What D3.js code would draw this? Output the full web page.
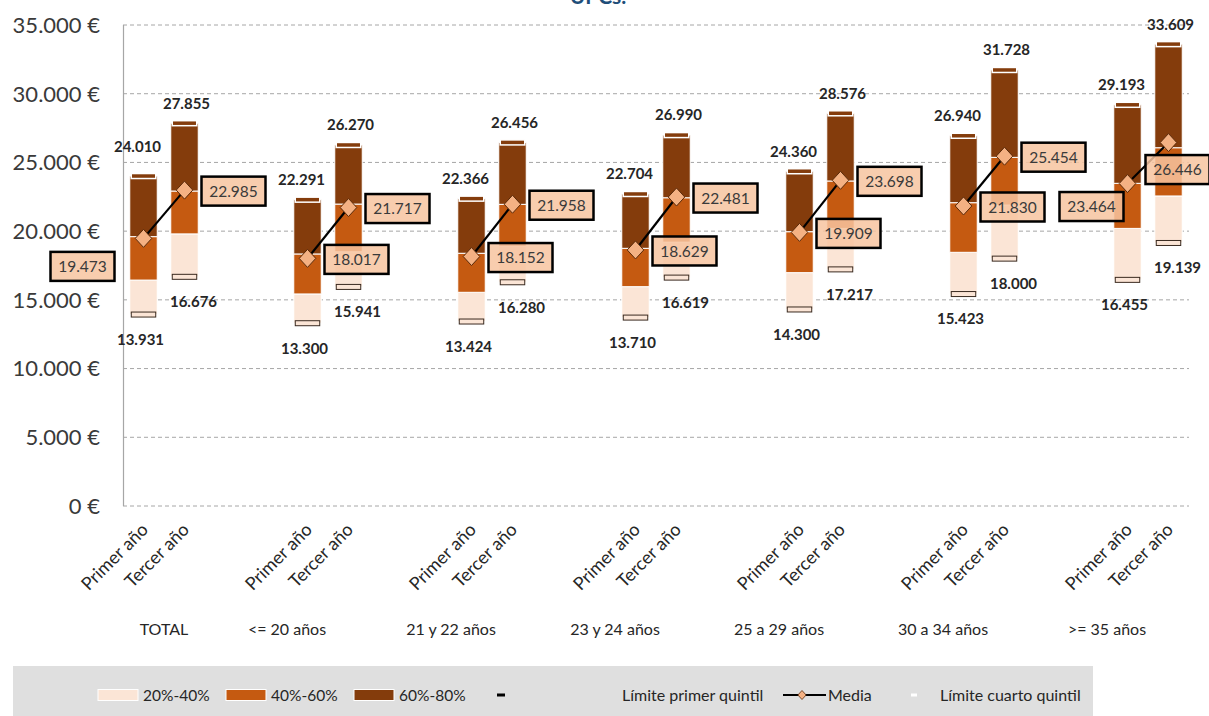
<!DOCTYPE html>
<html>
<head>
<meta charset="utf-8">
<script src="https://cdn.jsdelivr.net/npm/d3@7"></script>
<style>
  html, body { margin: 0; padding: 0; background: #fff; }
  svg { display: block; font-family: Lato, "Open Sans", sans-serif; }
</style>
</head>
<body>
<svg id="chart" width="1209" height="716"></svg>
<script>
// Age groups and the two years compared in each one
const groups = ["TOTAL", "<= 20 años", "21 y 22 años", "23 y 24 años", "25 a 29 años", "30 a 34 años", ">= 35 años"];
const years = ["Primer año", "Tercer año"];

// Quintile limits (€) per group, first year
const p20Primer = [13931, 13300, 13424, 13710, 14300, 15423, 16455];
const p40Primer = [16440, 15430, 15550, 15960, 16980, 18460, 20200];
const p60Primer = [19600, 18340, 18390, 18750, 19960, 22070, 23480];
const p80Primer = [24010, 22291, 22366, 22704, 24360, 26940, 29193];
const meanPrimer = [19473, 18017, 18152, 18629, 19909, 21830, 23464];

// Quintile limits (€) per group, third year
const p20Tercer = [16676, 15941, 16280, 16619, 17217, 18000, 19139];
const p40Tercer = [19800, 18500, 18900, 19200, 20200, 21900, 22560];
const p60Tercer = [22920, 21970, 21950, 22430, 23650, 25370, 26070];
const p80Tercer = [27855, 26270, 26456, 26990, 28576, 31728, 33609];
const meanTercer = [22985, 21717, 21958, 22481, 23698, 25454, 26446];

const yTicks = [0, 5000, 10000, 15000, 20000, 25000, 30000, 35000];
const legendLabels = ["20%-40%", "40%-60%", "60%-80%", "Límite primer quintil", "Media", "Límite cuarto quintil"];

const C = {
  light: "#fbe5d6", mid: "#c55a11", dark: "#843c0c",
  diamond: "#f4b183", box: "#f7c4a0", text: "#404040", grid: "#a6a6a6"
};

const svg = d3.select("#chart");
const fmt = d3.formatLocale({ decimal: ",", thousands: ".", grouping: [3], currency: ["", ""] }).format(",.0f");

// Category slots: TOTAL has two, every later group has two blanks before its two bars
const slots = [];
const groupSlots = groups.map(() => []);
groups.forEach((g, gi) => {
  if (gi > 0) { slots.push(`b${gi}a`); slots.push(`b${gi}b`); groupSlots[gi].push(`b${gi}a`, `b${gi}b`); }
  years.forEach((yr, si) => { const k = `${gi}-${si}`; slots.push(k); groupSlots[gi].push(k); });
});

const x = d3.scaleBand().domain(slots).range([123, 1189]).paddingInner(0.33).paddingOuter(0.165);
const y = d3.scaleLinear().domain([0, 35000]).range([506, 25]);
const bw = x.bandwidth();

// Title remnant at the very top
svg.append("text").attr("x", 598).attr("y", 4).attr("text-anchor", "middle")
  .attr("font-size", 21).attr("font-weight", "bold").attr("fill", "#1f4e79").text("UPCs.");

// Grid and y axis
const gy = svg.append("g");
gy.selectAll("line.grid").data(yTicks).join("line")
  .attr("x1", 123).attr("x2", 1189).attr("y1", d => y(d)).attr("y2", d => y(d))
  .attr("stroke", C.grid).attr("stroke-width", 1).attr("stroke-dasharray", "4,3");
gy.append("line").attr("x1", 123.5).attr("x2", 123.5).attr("y1", y(35000)).attr("y2", y(0))
  .attr("stroke", "#a6a6a6").attr("stroke-width", 1.2);
gy.selectAll("text").data(yTicks).join("text")
  .attr("x", 100).attr("y", d => y(d)).attr("dy", "0.36em").attr("text-anchor", "end")
  .attr("font-size", 22).attr("fill", "#3a3a3a").text(d => fmt(d) + " €");

// Per-bar records
const bars = [];
groups.forEach((g, gi) => {
  bars.push({ gi, si: 0, key: `${gi}-0`, p20: p20Primer[gi], p40: p40Primer[gi], p60: p60Primer[gi], p80: p80Primer[gi], mean: meanPrimer[gi] });
  bars.push({ gi, si: 1, key: `${gi}-1`, p20: p20Tercer[gi], p40: p40Tercer[gi], p60: p60Tercer[gi], p80: p80Tercer[gi], mean: meanTercer[gi] });
});
const cx = d => x(d.key) + bw / 2;

// Stacked quintile segments
const segs = [];
bars.forEach(b => {
  segs.push({ b, y0: b.p20, y1: b.p40, fill: C.light });
  segs.push({ b, y0: b.p40, y1: b.p60, fill: C.mid });
  segs.push({ b, y0: b.p60, y1: b.p80, fill: C.dark });
});
svg.append("g").selectAll("rect").data(segs).join("rect")
  .attr("x", d => x(d.b.key)).attr("width", bw)
  .attr("y", d => y(d.y1)).attr("height", d => y(d.y0) - y(d.y1))
  .attr("fill", d => d.fill).attr("stroke", "#fff").attr("stroke-width", 1);

// Fourth-quintile limit marker (top)
svg.append("g").selectAll("rect").data(bars).join("rect")
  .attr("x", d => x(d.key) + 1.5).attr("width", bw - 3)
  .attr("y", d => y(d.p80) - 2.5).attr("height", 5)
  .attr("fill", C.dark).attr("stroke", "#fff").attr("stroke-width", 1.5);

// First-quintile limit marker (bottom)
svg.append("g").selectAll("rect").data(bars).join("rect")
  .attr("x", d => x(d.key) + 1.5).attr("width", bw - 3)
  .attr("y", d => y(d.p20) - 2.5).attr("height", 5)
  .attr("fill", C.light).attr("stroke", "#3a2a20").attr("stroke-width", 1);

// Mean line between both years of each group
svg.append("g").selectAll("line").data(groups.map((g, gi) => gi)).join("line")
  .attr("x1", gi => cx(bars[gi * 2])).attr("y1", gi => y(meanPrimer[gi]))
  .attr("x2", gi => cx(bars[gi * 2 + 1])).attr("y2", gi => y(meanTercer[gi]))
  .attr("stroke", "#000").attr("stroke-width", 2.2);

// Mean diamonds
const diamond = (s) => `M0,${-s}L${s * 0.92},0L0,${s}L${-s * 0.92},0Z`;
svg.append("g").selectAll("path").data(bars).join("path")
  .attr("transform", d => `translate(${cx(d)},${y(d.mean)})`)
  .attr("d", diamond(9))
  .attr("fill", C.diamond).attr("stroke", "#5a2a0a").attr("stroke-width", 1);

// Mean value boxes (to the right of the diamond unless space is taken)
function meanOffset(d) {
  if (d.gi === 0 && d.si === 0) return [-61, 28];
  if (d.gi === 6 && d.si === 0) return [-36, 23];
  if (d.gi === 6 && d.si === 1) return [9, 27];
  return [49, 1];
}
const boxW = 64, boxH = 29;
const mb = svg.append("g").selectAll("g").data(bars).join("g")
  .attr("transform", d => { const o = meanOffset(d); return `translate(${cx(d) + o[0]},${y(d.mean) + o[1]})`; });
mb.append("rect").attr("x", -boxW / 2).attr("y", -boxH / 2).attr("width", boxW).attr("height", boxH)
  .attr("fill", C.box).attr("fill-opacity", 0.85).attr("stroke", "#000").attr("stroke-width", 2.5);
mb.append("text").attr("text-anchor", "middle").attr("dy", "0.36em")
  .attr("font-size", 15.5).attr("fill", "#3a3a3a").text(d => fmt(d.mean));

// Quintile limit labels (the TOTAL first-year top label sits a little higher)
svg.append("g").selectAll("text").data(bars).join("text")
  .attr("x", d => cx(d) + (d.si === 0 ? -6 : 2))
  .attr("y", d => y(d.p80) - (d.gi === 0 && d.si === 0 ? 29 : 20)).attr("dy", "0.36em")
  .attr("text-anchor", "middle").attr("font-size", 15).attr("font-weight", "bold").attr("fill", "#262626")
  .text(d => fmt(d.p80));
svg.append("g").selectAll("text").data(bars).join("text")
  .attr("x", d => cx(d) + (d.si === 0 ? -3 : 9)).attr("y", d => y(d.p20) + 25).attr("dy", "0.36em")
  .attr("text-anchor", "middle").attr("font-size", 15).attr("font-weight", "bold").attr("fill", "#262626")
  .text(d => fmt(d.p20));

// Category axis: rotated year labels and group labels
svg.append("g").selectAll("text").data(bars).join("text")
  .attr("transform", d => `translate(${cx(d) + 2},${527}) rotate(-45)`)
  .attr("text-anchor", "end").attr("dy", "0.3em")
  .attr("font-size", 18).attr("fill", "#262626").text(d => years[d.si]);
svg.append("g").selectAll("text").data(groups).join("text")
  .attr("x", (g, gi) => d3.mean(groupSlots[gi], k => x(k) + bw / 2)).attr("y", 629).attr("dy", "0.36em")
  .attr("text-anchor", "middle").attr("font-size", 16).attr("fill", "#262626").text(g => g);

// Legend
const lg = svg.append("g");
lg.append("rect").attr("x", 13).attr("y", 666).attr("width", 1080).attr("height", 50).attr("fill", "#dfdfdf");
const ly = 695;
const swatches = [[98, C.light], [226, C.mid], [354, C.dark]];
swatches.forEach(([sx, col], i) => {
  lg.append("rect").attr("x", sx).attr("y", ly - 5.5).attr("width", 40).attr("height", 11)
    .attr("fill", col).attr("stroke", "#fff").attr("stroke-width", 1);
  lg.append("text").attr("x", sx + 45).attr("y", ly).attr("dy", "0.36em")
    .attr("font-size", 15.5).attr("fill", "#262626").text(legendLabels[i]);
});
lg.append("rect").attr("x", 497).attr("y", ly - 1.5).attr("width", 8).attr("height", 3).attr("fill", "#000");
lg.append("text").attr("x", 622).attr("y", ly).attr("dy", "0.36em")
  .attr("font-size", 16).attr("fill", "#262626").text(legendLabels[3]);
lg.append("line").attr("x1", 783).attr("x2", 826).attr("y1", ly).attr("y2", ly).attr("stroke", "#000").attr("stroke-width", 2);
lg.append("path").attr("transform", `translate(802,${ly})`).attr("d", diamond(4.5))
  .attr("fill", C.diamond).attr("stroke", "#5a2a0a").attr("stroke-width", 0.8);
lg.append("text").attr("x", 828).attr("y", ly).attr("dy", "0.36em")
  .attr("font-size", 16).attr("fill", "#262626").text(legendLabels[4]);
lg.append("rect").attr("x", 911).attr("y", ly - 1.5).attr("width", 6).attr("height", 3).attr("fill", "#fff");
lg.append("text").attr("x", 940).attr("y", ly).attr("dy", "0.36em")
  .attr("font-size", 16).attr("fill", "#262626").text(legendLabels[5]);
</script>
</body>
</html>
